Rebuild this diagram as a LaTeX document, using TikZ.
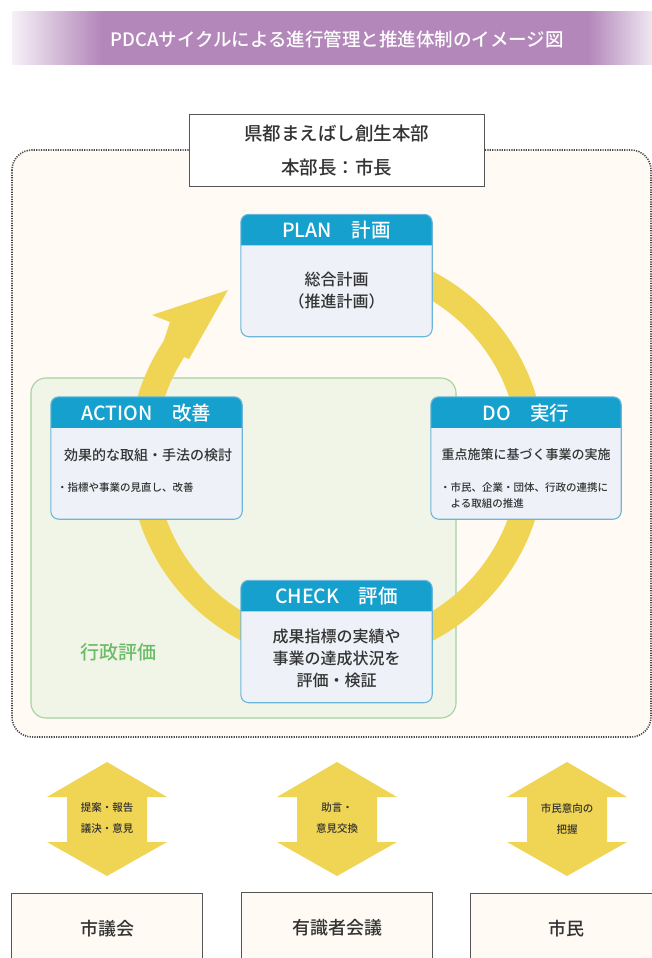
\documentclass[tikz,border=0pt]{standalone}
\usepackage{fontspec}
\setmainfont{Noto Sans CJK JP Medium}
\usetikzlibrary{calc}
\definecolor{purp}{HTML}{B387BA}
\definecolor{cream}{HTML}{FFFBF4}
\definecolor{dotc}{HTML}{4A4A4A}
\definecolor{grfill}{HTML}{F1F5E7}
\definecolor{grline}{HTML}{A3D3A0}
\definecolor{grtext}{HTML}{6CBB69}
\definecolor{ringc}{HTML}{F0D453}
\definecolor{hdrc}{HTML}{16A0CD}
\definecolor{bodyc}{HTML}{EEF2F8}
\definecolor{bordc}{HTML}{6CB6DC}
\definecolor{txt}{HTML}{333333}
\definecolor{boxline}{HTML}{555555}
\pgfdeclarehorizontalshading{banner}{100bp}{color(0bp)=(purp!12); color(25bp)=(purp!12); color(32bp)=(purp); color(70bp)=(purp); color(75bp)=(purp!20); color(100bp)=(purp!20)}
\newcommand\pdcacard[1]{%
  \fill[hdrc] ($(#1.north west)+(0,31)$) [rounded corners=8] -- (#1.north west) -- (#1.north east) [sharp corners] -- ($(#1.north east)+(0,31)$) -- cycle;
  \draw[bordc, line width=1.1, rounded corners=8] (#1.north west) rectangle (#1.south east);}
\begin{document}
\begin{tikzpicture}[x=1pt, y=-1pt,
  every node/.style={text=txt, inner sep=0pt},
  hdrtext/.style={text=white, font=\fontsize{19.5}{22}\selectfont},
  bodytext/.style={align=center, font=\fontsize{16}{22}\selectfont},
  smalltext/.style={align=left, font=\fontsize{10.5}{16}\selectfont},
  pbody/.style={fill=bodyc, minimum width=191, minimum height=122, rounded corners=8},
  arrtext/.style={align=center, font=\fontsize{10.5}{21}\selectfont},
  bbox/.style={draw=boxline, fill=cream, line width=1, minimum width=191, minimum height=70, anchor=north, font=\fontsize{18}{20}\selectfont},
  yarrow/.style={fill=ringc}]
\useasboundingbox (0,0) rectangle (652,958);
\clip (0,0) rectangle (652,958);

% title banner
\shade[shading=banner] (12,12) rectangle (652,65);
\node[text=white, font=\fontsize{18.5}{20}\selectfont] (title) at (337,39) {PDCAサイクルによる進行管理と推進体制のイメージ図};

% dotted frame
\draw[dotc, fill=cream, line width=1.6, dash pattern=on 1.2pt off 1.2pt, rounded corners=20] (12,150) rectangle (651,737);

% green evaluation area
\draw[grline, fill=grfill, line width=1.1, rounded corners=15] (31,378) rectangle (456,718);
\node[text=grtext, font=\fontsize{19}{20}\selectfont] (gyosei) at (118,652) {行政評価};

% ring
\coordinate (C) at (337,456);
\draw[ringc, line width=26] ($(C)+(-146:195)$) arc[start angle=-146, end angle=-450, radius=195];
\fill[ringc] (228,290) -- (152,315) -- (170,322) -- (163,343) -- (184,357) -- (189,359) -- cycle;

% headquarters box
\node[draw=boxline, fill=white, line width=1, minimum width=295, minimum height=72, align=center, font=\fontsize{18.5}{34}\selectfont] (hq) at (336.5,150) {県都まえばし創生本部\\本部長：市長};

% PDCA cards
\node[pbody] (plan) at (336.5,275.5) {};
\pdcacard{plan}
\node[hdrtext] (plan-h) at (336.5,230.5) {PLAN　計画};
\node[bodytext] (plan-t) at (336.5,291) {総合計画\\（推進計画）};

\node[pbody] (act) at (146.5,458) {};
\pdcacard{act}
\node[hdrtext] (act-h) at (146.5,413) {ACTION　改善};
\node[font=\fontsize{14}{16}\selectfont] (act-t) at (148,455) {効果的な取組・手法の検討};
\node[smalltext, anchor=west] (act-s) at (57,488) {・指標や事業の見直し、改善};

\node[pbody, minimum width=190] (do) at (526,458) {};
\pdcacard{do}
\node[hdrtext] (do-h) at (526,413) {DO　実行};
\node[font=\fontsize{13}{16}\selectfont] (do-t) at (526,455) {重点施策に基づく事業の実施};
\node[smalltext, anchor=west] (do-s) at (440,495) {・市民、企業・団体、行政の連携に\\\hspace*{1em}よる取組の推進};

\node[pbody] (chk) at (336.5,641.5) {};
\pdcacard{chk}
\node[hdrtext] (chk-h) at (336.5,596.5) {CHECK　評価};
\node[bodytext] (chk-t) at (336.5,658) {成果指標の実績や\\事業の達成状況を\\評価・検証};

% double arrows
\foreach \cx in {107,337,567}{
  \fill[yarrow] (\cx,762) -- (\cx+60,797) -- (\cx+40,797) -- (\cx+40,842) -- (\cx+60,842) -- (\cx,876) -- (\cx-60,842) -- (\cx-40,842) -- (\cx-40,797) -- (\cx-60,797) -- cycle;
}
\node[arrtext] (a1) at (107,818.5) {提案・報告\\議決・意見};
\node[arrtext] (a2) at (337,818.5) {助言・\\意見交換};
\node[arrtext] (a3) at (567,818.5) {市民意向の\\把握};

% bottom boxes
\node[bbox] (gikai) at (107,893) {市議会};
\node[bbox] (yushiki) at (337,892) {有識者会議};
\node[bbox] (shimin) at (566,893) {市民};
\end{tikzpicture}
\end{document}
